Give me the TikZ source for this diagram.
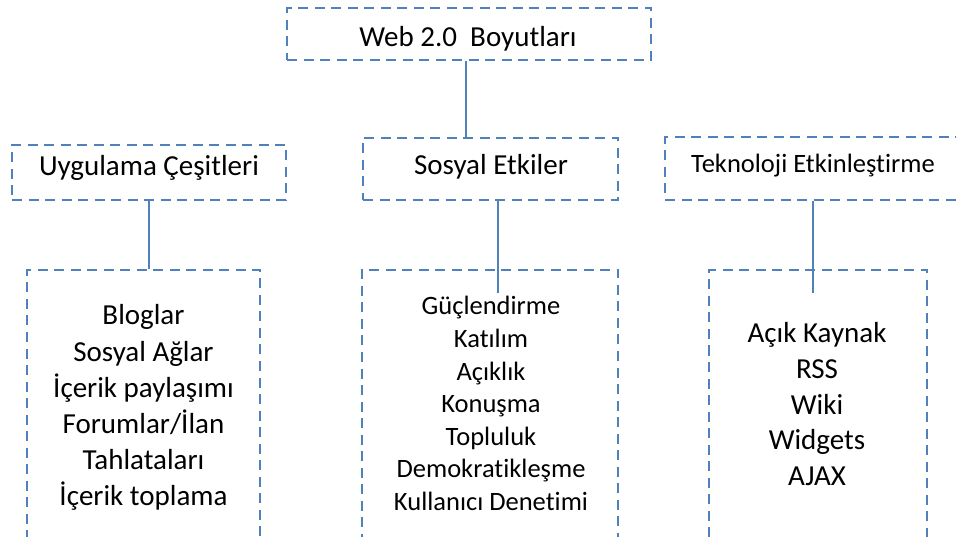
\documentclass[tikz,border=0pt]{standalone}
\usepackage{fontspec}
\setmainfont{Carlito}[Ligatures={NoCommon,NoContextual}]
\definecolor{boxblue}{RGB}{79,129,189}
\begin{document}
\begin{tikzpicture}[x=1pt,y=-1pt,
  dbox/.style={draw=boxblue,line width=2.7pt,dash pattern=on 10pt off 6.5pt,inner sep=0pt,rectangle},
  conn/.style={draw=boxblue,line width=1.6pt},
  big/.style={font=\fontsize{29}{35}\selectfont,anchor=base,inner sep=0pt},
  small/.style={font=\fontsize{26.5}{32}\selectfont,anchor=base,inner sep=0pt}]
\useasboundingbox (0,0) rectangle (956,537);
\clip (0,0) rectangle (956,537);
% header boxes
\node[dbox,minimum width=364pt,minimum height=52pt] (top) at (469,34) {};
\node[dbox,minimum width=274pt,minimum height=55pt] (uyg) at (149,172.5) {};
\node[dbox,minimum width=255pt,minimum height=62pt] (sos) at (490.5,169) {};
\node[dbox,minimum width=300pt,minimum height=63pt] (tek) at (815,168.5) {};
% bottom boxes (open at the bottom edge)
\node[dbox,minimum width=233pt,minimum height=330pt] (L) at (143.5,435) {};
\node[dbox,minimum width=256pt,minimum height=330pt] (M) at (490,435) {};
\node[dbox,minimum width=218pt,minimum height=330pt] (R) at (818,435) {};
% header texts
\node[big] (ttop) at (468,47) {Web 2.0\ \ Boyutları};
\node[big] (tuyg) at (149,176) {Uygulama Çeşitleri};
\node[big] (tsos) at (491,175) {Sosyal Etkiler};
\node[small] (ttek) at (813,173) {Teknoloji Etkinleştirme};
% lists
\foreach [count=\i] \t in {Bloglar,Sosyal Ağlar,İçerik paylaşımı,Forumlar/İlan,Tahlataları,İçerik toplama}
  \node[big] (l\i) at (143.5,{325+36*(\i-1)}) {\t};
\foreach [count=\i] \t in {Güçlendirme,Katılım,Açıklık,Konuşma,Topluluk,Demokratikleşme,Kullanıcı Denetimi}
  \node[small] (m\i) at (491,{315+32.5*(\i-1)}) {\t};
\foreach [count=\i] \t in {Açık Kaynak,RSS,Wiki,Widgets,AJAX}
  \node[big] (r\i) at (817,{343+35.5*(\i-1)}) {\t};
% connectors
\coordinate (msEnd) at (498,293);
\coordinate (teEnd) at (813,293);
\draw[conn] ([xshift=-3pt]top.south) -- ([xshift=-3pt]top.south |- sos.north);
\draw[conn] (uyg.south) -- (uyg.south |- L.north);
\draw[conn] (msEnd |- sos.south) -- (msEnd);
\draw[conn] (teEnd |- tek.south) -- (teEnd);
\end{tikzpicture}
\end{document}
